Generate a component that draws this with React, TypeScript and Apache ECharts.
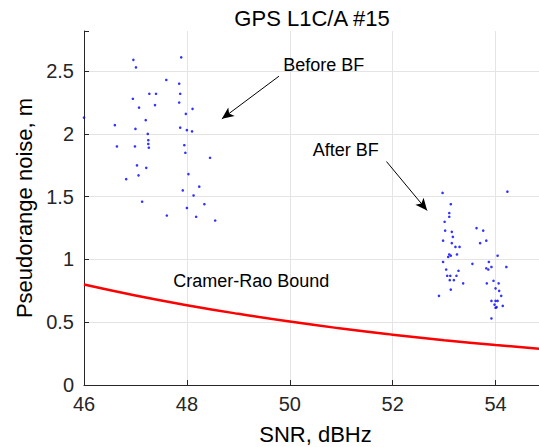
import React, { useEffect, useRef } from "react";
import * as echarts from "echarts";

const titleText = "GPS L1C/A #15";
const xTicks = [46, 48, 50, 52, 54];
const yTicks = [0, 0.5, 1, 1.5, 2, 2.5];

// Before beamforming: [SNR dBHz, noise m]
const beforeBF: number[][] = [
  [46.96, 2.59], [47.89, 2.61], [47.01, 2.53], [47.6, 2.43], [47.85, 2.4],
  [47.27, 2.32], [47.4, 2.32], [47.87, 2.32], [46.95, 2.28], [47.85, 2.25],
  [47.38, 2.23], [47.07, 2.21], [48.11, 2.2], [47.98, 2.16], [46.0, 2.13],
  [47.2, 2.11], [46.6, 2.07], [47.87, 2.05], [47.0, 2.04], [48.0, 2.03],
  [48.1, 2.02], [47.24, 2.0], [47.25, 1.95], [46.64, 1.9], [46.99, 1.9],
  [47.25, 1.92], [47.26, 1.89], [47.95, 1.91], [47.97, 1.85], [48.45, 1.81],
  [47.03, 1.75], [47.21, 1.73], [47.06, 1.67], [46.82, 1.64], [48.03, 1.68],
  [48.24, 1.58], [47.92, 1.55], [48.13, 1.51], [47.13, 1.46], [48.34, 1.44],
  [48.0, 1.41], [47.61, 1.35], [48.18, 1.34], [48.55, 1.31],
];

// After beamforming
const afterBF: number[][] = [
  [52.97, 1.53], [54.23, 1.54], [53.13, 1.44], [53.1, 1.37], [53.1, 1.34],
  [53.01, 1.3], [53.02, 1.23], [53.15, 1.22], [53.17, 1.18], [52.98, 1.15],
  [53.15, 1.13], [53.22, 1.1], [53.3, 1.1], [53.63, 1.25], [53.76, 1.23],
  [53.7, 1.13], [53.82, 1.15], [53.25, 1.04], [53.1, 1.04], [53.13, 1.03],
  [53.08, 1.02], [54.04, 1.03], [52.98, 0.98], [53.55, 0.965], [53.87, 0.98],
  [53.92, 0.94], [53.82, 0.93], [53.86, 0.92], [54.21, 0.94], [53.04, 0.92],
  [53.28, 0.91], [53.06, 0.87], [53.12, 0.87], [53.24, 0.87], [53.11, 0.835],
  [53.19, 0.835], [53.37, 0.81], [53.83, 0.81], [53.96, 0.83], [54.06, 0.81],
  [54.0, 0.77], [54.07, 0.75], [53.13, 0.76], [54.11, 0.71], [52.9, 0.71],
  [53.92, 0.67], [54.0, 0.67], [54.04, 0.67], [53.98, 0.64], [54.02, 0.62],
  [54.0, 0.615], [54.14, 0.63], [53.92, 0.53],
];

// Cramer-Rao bound read at each dBHz
const crbSnr = [46, 47, 48, 49, 50, 51, 52, 53, 54, 55];
const crbNoise = [0.8, 0.713, 0.636, 0.567, 0.505, 0.45, 0.401, 0.357, 0.318, 0.284];

const annotations = [
  { text: "Before BF", coord: [50.66, 2.55] },
  { text: "After BF", coord: [51.09, 1.87] },
  { text: "Cramer-Rao Bound", coord: [49.25, 0.83] },
];
const arrows = [
  { from: [49.79, 2.46], to: [48.68, 2.12] },
  { from: [51.88, 1.78], to: [52.67, 1.39] },
];

const FONT = "'Liberation Sans', Arial, Helvetica, sans-serif";
const TXT = "#262626";

export default function App() {
  const ref = useRef<HTMLDivElement>(null);
  useEffect(() => {
    if (!ref.current) return;
    const chart = echarts.init(ref.current, undefined, { renderer: "svg" });
    const onTick = (ticks: number[]) => (v: number) =>
      ticks.some((t) => Math.abs(t - v) < 1e-6) ? String(v) : "";
    chart.setOption({
      animation: false,
      backgroundColor: "#fff",
      textStyle: { fontFamily: FONT },
      title: {
        text: titleText,
        left: 307,
        top: 2,
        textAlign: "center",
        textStyle: { fontFamily: FONT, fontSize: 22, fontWeight: "normal", color: "#000" },
      },
      grid: { left: 84, top: 31, right: -8, bottom: 62, containLabel: false, outerBoundsMode: "none" },
      xAxis: {
        type: "value",
        min: 46,
        max: 55,
        interval: 2,
        name: "SNR, dBHz",
        nameLocation: "middle",
        nameGap: 38,
        nameTextStyle: { fontFamily: FONT, fontSize: 22, color: "#000" },
        axisLine: { show: true, onZero: false, lineStyle: { color: TXT, width: 1 } },
        axisTick: { show: true, inside: true, length: 5, lineStyle: { color: TXT } },
        axisLabel: { fontFamily: FONT, fontSize: 20, color: TXT, margin: 9, formatter: onTick(xTicks) },
        splitLine: { show: true, showMinLine: false, showMaxLine: false, lineStyle: { color: "#e4e4e4", width: 1 } },
      },
      yAxis: {
        type: "value",
        min: 0,
        max: 2.82,
        interval: 0.5,
        name: "Pseudorange noise, m",
        nameLocation: "middle",
        nameGap: 47,
        nameTextStyle: { fontFamily: FONT, fontSize: 22, color: "#000" },
        axisLine: { show: true, onZero: false, lineStyle: { color: TXT, width: 1 } },
        axisTick: { show: true, inside: true, length: 5, lineStyle: { color: TXT } },
        axisLabel: { fontFamily: FONT, fontSize: 20, color: TXT, margin: 10, formatter: onTick(yTicks) },
        splitLine: { show: true, showMinLine: false, showMaxLine: false, lineStyle: { color: "#e4e4e4", width: 1 } },
      },
      series: [
        {
          type: "line",
          data: crbSnr.map((s, i) => [s, crbNoise[i]]),
          smooth: true,
          showSymbol: false,
          lineStyle: { color: "#ff0000", width: 2.5 },
          z: 3,
          markPoint: {
            symbol: "circle",
            symbolSize: 0,
            label: {
              show: true,
              position: "inside",
              fontFamily: FONT,
              fontSize: 18,
              color: "#000",
              formatter: (p: any) => p.name,
            },
            data: annotations.map((a) => ({ name: a.text, coord: a.coord })),
          },
          markLine: {
            silent: true,
            symbol: ["none", "arrow"],
            symbolSize: [8, 12],
            label: { show: false },
            lineStyle: { color: "#000", width: 1, type: "solid" },
            data: arrows.map((a) => [{ coord: a.from }, { coord: a.to }]),
          },
        },
        {
          type: "scatter",
          data: beforeBF,
          symbol: "circle",
          symbolSize: 2.6,
          itemStyle: { color: "#0000ff" },
          z: 4,
        },
        {
          type: "scatter",
          data: afterBF,
          symbol: "circle",
          symbolSize: 2.6,
          itemStyle: { color: "#0000ff" },
          z: 4,
        },
      ],
    });
    return () => chart.dispose();
  }, []);
  return <div ref={ref} style={{ width: 539, height: 447, position: "absolute", left: 0, top: 0 }} />;
}
